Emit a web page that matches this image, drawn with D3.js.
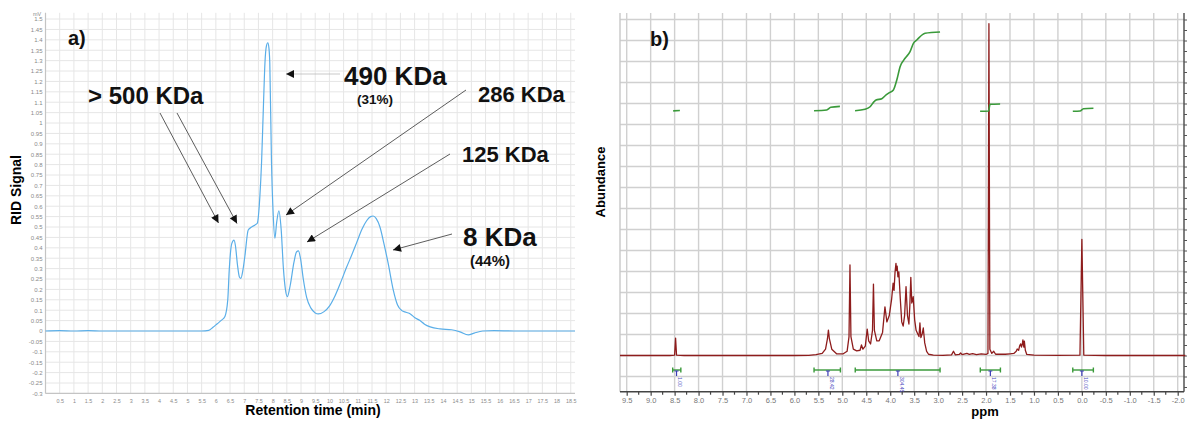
<!DOCTYPE html>
<html><head><meta charset="utf-8">
<script src="https://cdn.jsdelivr.net/npm/d3@7"></script>
<style>body{margin:0;background:#fff}svg{display:block;font-family:Arial,"Liberation Sans",sans-serif}</style>
</head><body><svg id="c" width="1190" height="421"></svg>
<script>
// ---------- Panel a) GPC / RID chromatogram ----------
const gpcTicksY = d3.range(-6, 31).map(i => +(i * 0.05).toFixed(2));
const gpcTicksX = d3.range(1, 38).map(i => i * 0.5);
// [retention time (min), RID signal]
const gpcCurve = [
  [0,0],[0.5,0.002],[1,0],[1.5,0.002],[2,0],[3,0],[4,0],[5,0],[5.5,0],[5.75,0.003],
  [5.9,0.018],[6.05,0.035],[6.2,0.052],[6.32,0.07],[6.42,0.15],[6.47,0.29],[6.56,0.42],
  [6.64,0.437],[6.69,0.41],[6.76,0.32],[6.83,0.26],[6.88,0.253],[6.95,0.29],[7.02,0.357],
  [7.14,0.486],[7.26,0.50],[7.38,0.51],[7.46,0.518],[7.55,0.646],[7.61,0.81],[7.68,1.1],
  [7.73,1.29],[7.78,1.37],[7.83,1.386],[7.87,1.36],[7.9,1.29],[7.96,0.81],[8.02,0.56],
  [8.08,0.446],[8.14,0.52],[8.22,0.578],[8.3,0.49],[8.38,0.3],[8.45,0.2],[8.52,0.165],
  [8.62,0.22],[8.75,0.33],[8.84,0.38],[8.91,0.385],[8.98,0.35],[9.08,0.25],[9.2,0.16],
  [9.35,0.11],[9.5,0.087],[9.61,0.082],[9.8,0.092],[10.0,0.12],[10.2,0.17],[10.4,0.235],
  [10.6,0.305],[10.8,0.37],[10.96,0.425],[11.15,0.49],[11.31,0.53],[11.45,0.55],
  [11.54,0.553],[11.65,0.54],[11.78,0.50],[11.92,0.42],[12.07,0.325],[12.25,0.197],
  [12.4,0.125],[12.55,0.098],[12.7,0.09],[12.85,0.082],[13.0,0.065],[13.19,0.05],
  [13.35,0.033],[13.55,0.02],[13.9,0.01],[14.3,0.006],[14.6,-0.004],[14.89,-0.019],
  [15.1,-0.01],[15.4,0],[15.8,0.002],[16.5,0],[17,0],[18,0],[18.65,0]
];

// ---------- Panel b) 1H NMR spectrum ----------
const nmrTicksX = d3.range(0, 24).map(i => +(9.5 - i * 0.5).toFixed(1));
// [chemical shift (ppm), abundance]
const nmrCurve = [
  [9.64,0],[8.6,0],[8.5,0.02],[8.48,0.83],[8.46,0.02],[8.3,0],[6.0,0],[5.7,0.01],[5.55,0.04],
  [5.42,0.1],[5.35,0.3],[5.31,0.8],[5.29,1.21],[5.27,0.8],[5.22,0.3],[5.12,0.08],[4.98,0.08],
  [4.9,0.2],[4.86,0.9],[4.84,4.31],[4.82,0.9],[4.77,0.3],[4.7,0.22],[4.63,0.25],[4.6,0.5],
  [4.57,0.3],[4.52,0.45],[4.48,1.26],[4.45,0.7],[4.41,0.55],[4.37,1.2],[4.35,3.4],[4.33,1.2],
  [4.28,0.7],[4.23,0.7],[4.16,1.1],[4.11,2.32],[4.07,1.6],[4.02,1.9],[3.97,2.7],[3.94,3.44],
  [3.92,3.1],[3.9,3.95],[3.88,4.39],[3.87,4.05],[3.855,4.26],[3.84,3.75],[3.82,3.98],
  [3.79,2.7],[3.76,1.6],[3.73,1.4],[3.7,1.9],[3.67,3.28],[3.64,1.9],[3.61,1.5],[3.59,2.4],
  [3.57,3.72],[3.55,2.5],[3.52,2.8],[3.49,1.7],[3.46,1.2],[3.43,1.05],[3.4,0.9],[3.38,1.55],
  [3.36,0.85],[3.33,1.05],[3.31,1.31],[3.28,0.6],[3.24,0.2],[3.2,0.06],[3.1,0.02],[2.9,0.01],
  [2.72,0.03],[2.68,0.2],[2.64,0.03],[2.56,0.05],[2.53,0.12],[2.5,0.04],[2.4,0.1],[2.35,0.05],
  [2.28,0.09],[2.2,0.04],[2.1,0.08],[2.0,0.05],[1.96,0.1],[1.94,15.8],[1.92,0.3],[1.88,0.1],
  [1.84,0.2],[1.8,0.06],[1.6,0.06],[1.5,0.08],[1.42,0.1],[1.37,0.2],[1.35,0.31],[1.32,0.25],
  [1.3,0.45],[1.28,0.55],[1.26,0.4],[1.24,0.6],[1.23,0.74],[1.22,0.5],[1.21,0.4],[1.2,0.68],
  [1.18,0.25],[1.15,0.05],[1.0,0.02],[0.5,0.01],[0.04,0.02],[0.0,5.53],[-0.04,0.02],
  [-0.5,0],[-2.16,0]
];
// integration regions [start ppm, end ppm], marker position, value text
const intRegions = [[8.54,8.37],[5.59,5.04],[4.73,2.96],[2.12,1.70],[0.19,-0.24]];
const intMarks = [8.46, 5.30, 3.84, 1.91, 0.0];
const intLabels = ["1.00", "28.42", "304.45", "17.38", "10.00"];
// integral traces [ppm, integral %]
const integrals = [
  [[8.53,0.2],[8.39,0.6]],
  [[5.59,0.4],[5.325,1.3],[5.24,4.7],[5.05,5.9]],
  [[4.734,0.4],[4.525,2.2],[4.42,5.4],[4.337,11.8],[4.295,13.9],[4.176,15.6],[4.086,20.3],
   [4.018,23.2],[3.934,26.6],[3.863,39.2],[3.794,56.1],[3.69,66.7],[3.586,75.1],[3.516,85.7],
   [3.446,89.9],[3.273,98.4],[2.96,100]],
  [[2.124,-0.4],[1.95,0],[1.915,8.5],[1.706,8.9]],
  [[0.189,-0.4],[0.037,0],[-0.032,2.9],[-0.241,3.4]]
];

const svg = d3.select("#c");
const fmt = v => String(+v.toFixed(2));

// ================= Panel a =================
const xA = d3.scaleLinear([0, 18.65], [45.5, 575]);
const yA = d3.scaleLinear([-0.3, 1.53], [393.4, 12.8]);
const gA = svg.append("g");
gA.append("g").selectAll("line").data(gpcTicksX).join("line")
  .attr("x1", d => xA(d)).attr("x2", d => xA(d)).attr("y1", yA.range()[1]).attr("y2", yA.range()[0])
  .attr("stroke", "#e6e6e6").attr("stroke-width", 1);
gA.append("g").selectAll("line").data(gpcTicksY.filter(d => d !== -0.3)).join("line")
  .attr("x1", xA.range()[0]).attr("x2", xA.range()[1]).attr("y1", d => yA(d)).attr("y2", d => yA(d))
  .attr("stroke", "#e6e6e6").attr("stroke-width", 1);
// axes
const axYA = gA.append("g").attr("transform", `translate(${xA(0)},0)`)
  .call(d3.axisLeft(yA).tickValues(gpcTicksY).tickFormat(fmt).tickSize(0).tickPadding(3));
const axXA = gA.append("g").attr("transform", `translate(0,${yA(-0.3)})`)
  .call(d3.axisBottom(xA).tickValues(gpcTicksX).tickFormat(fmt).tickSize(0).tickPadding(6));
[axYA, axXA].forEach(a => {
  a.select(".domain").attr("stroke", "#c4c4c4").attr("stroke-width", 1.2);
  a.selectAll("text").attr("font-size", 6).attr("fill", "#8a8a8a").attr("font-family", "Arial, sans-serif");
});
axXA.selectAll("text").attr("font-size", 5.4);
axYA.select(".domain").attr("d", `M0,${yA.range()[0]}V${yA.range()[1]}`);
axXA.select(".domain").attr("d", `M${xA.range()[0]},0H${xA.range()[1]}`);
gA.append("text").attr("x", 33).attr("y", 16).attr("font-size", 5.5).attr("fill", "#8a8a8a").text("mV");

gA.append("path").datum(gpcCurve)
  .attr("d", d3.line().x(d => xA(d[0])).y(d => yA(d[1])).curve(d3.curveMonotoneX))
  .attr("fill", "none").attr("stroke", "#5aaee8").attr("stroke-width", 1.2);

// titles
gA.append("text").attr("transform", "translate(21,190) rotate(-90)").attr("text-anchor", "middle")
  .attr("font-weight", "bold").attr("font-size", 14).text("RID Signal");
gA.append("text").attr("x", 313).attr("y", 415).attr("text-anchor", "middle")
  .attr("font-weight", "bold").attr("font-size", 14).text("Retention time (min)");

// annotations
const defs = svg.append("defs");
defs.append("marker").attr("id", "arr").attr("viewBox", "0 0 10 10").attr("refX", 10).attr("refY", 5)
  .attr("markerWidth", 9).attr("markerHeight", 8).attr("markerUnits", "userSpaceOnUse").attr("orient", "auto")
  .append("path").attr("d", "M0,0L10,5L0,10z").attr("fill", "#111");
const arrows = [
  [160,113,218.5,223,"#333"],[177,113,237,223.5,"#333"],[340,74,286,74,"#bbb"],
  [466,90,286,215,"#333"],[450,154,307,242,"#333"],[452,234,393,250,"#333"]
];
gA.append("g").selectAll("line").data(arrows).join("line")
  .attr("x1", d => d[0]).attr("y1", d => d[1]).attr("x2", d => d[2]).attr("y2", d => d[3])
  .attr("stroke", d => d[4]).attr("stroke-width", 0.8).attr("marker-end", "url(#arr)");
const labels = [
  ["a)", 68, 45, 20], ["> 500 KDa", 88, 104, 24], ["490 KDa", 344, 85, 26], ["(31%)", 357, 104, 13.5],
  ["286 KDa", 478, 102, 22], ["125 KDa", 462, 162, 22], ["8 KDa", 463, 246, 26], ["(44%)", 470, 266, 15]
];
gA.append("g").selectAll("text").data(labels).join("text")
  .attr("x", d => d[1]).attr("y", d => d[2]).attr("font-size", d => d[3]).attr("font-weight", "bold")
  .attr("fill", "#111").text(d => d[0]);

// ================= Panel b =================
const xB = d3.scaleLinear([9.5, -2.0], [626.7, 1177.7]);
const yB = d3.scaleLinear([0, 16], [355.5, 19.5]);
const yI = d3.scaleLinear([0, 100], [111, 32]);
const pL = 620, pR = 1184, pT = 13, pB = 391.7;
const gB = svg.append("g");
gB.append("g").selectAll("line").data(nmrTicksX).join("line")
  .attr("x1", d => xB(d)).attr("x2", d => xB(d)).attr("y1", pT).attr("y2", pB)
  .attr("stroke", "#d0d0d0").attr("stroke-width", 1.4);
gB.append("g").selectAll("line").data(d3.range(-1, 17)).join("line")
  .attr("x1", pL).attr("x2", pR).attr("y1", d => yB(d)).attr("y2", d => yB(d))
  .attr("stroke", "#d0d0d0").attr("stroke-width", 1.4);
gB.append("line").attr("x1", pL).attr("x2", pL).attr("y1", pT).attr("y2", pB)
  .attr("stroke", "#c8c8c8").attr("stroke-width", 1.4);
// right tick axis
const rAx = gB.append("g").attr("transform", `translate(${pR},0)`)
  .call(d3.axisRight(yB).tickValues(d3.range(-3, 33).map(i => i * 0.5)).tickFormat("").tickSize(3));
rAx.select(".domain").attr("d", `M0,${pT}V${pB}`).attr("stroke", "#555").attr("stroke-width", 1.5);
rAx.selectAll("line").attr("stroke", "#555");
// bottom axis
const bAx = gB.append("g").attr("transform", `translate(0,${pB})`)
  .call(d3.axisBottom(xB).tickValues(nmrTicksX).tickFormat(d => d.toFixed(1)).tickSize(4).tickPadding(2));
bAx.select(".domain").attr("d", `M${pL},0H${pR}`).attr("stroke", "#444").attr("stroke-width", 1.6);
bAx.selectAll("line").attr("stroke", "#444").attr("stroke-width", 1.2);
bAx.selectAll("text").attr("font-size", 7.5).attr("fill", "#777").attr("font-family", "Arial, sans-serif");
gB.append("g").attr("transform", `translate(0,${pB})`)
  .selectAll("line").data(nmrTicksX.slice(0, -1).map(d => d - 0.25)).join("line")
  .attr("x1", d => xB(d)).attr("x2", d => xB(d)).attr("y1", 0).attr("y2", 3)
  .attr("stroke", "#444").attr("stroke-width", 1.2);

// spectrum
gB.append("path").datum(nmrCurve)
  .attr("d", d3.line().x(d => xB(d[0])).y(d => yB(d[1])))
  .attr("fill", "none").attr("stroke", "#8e1c1c").attr("stroke-width", 1.3).attr("stroke-linejoin", "round");

// integrals
gB.append("g").selectAll("path").data(integrals).join("path")
  .attr("d", d3.line().x(d => xB(d[0])).y(d => yI(d[1])).curve(d3.curveMonotoneX))
  .attr("fill", "none").attr("stroke", "#3a9a3a").attr("stroke-width", 1.6);
// integration region bars
const gR = gB.append("g");
gR.selectAll("line.bar").data(intRegions).join("line").attr("class", "bar")
  .attr("x1", d => xB(d[0])).attr("x2", d => xB(d[1])).attr("y1", 370).attr("y2", 370)
  .attr("stroke", "#3a9a3a").attr("stroke-width", 1.4);
gR.selectAll("path.cap").data(intRegions).join("path").attr("class", "cap")
  .attr("d", d => `M${xB(d[0])},367.5V372.5M${xB(d[1])},367.5V372.5`)
  .attr("stroke", "#3a9a3a").attr("stroke-width", 1.4);
gR.selectAll("path.mk").data(intMarks).join("path").attr("class", "mk")
  .attr("d", d => `M${xB(d) - 2},371H${xB(d) + 2}M${xB(d)},371V376`)
  .attr("stroke", "#3b3bb5").attr("stroke-width", 1.2);
gR.selectAll("text").data(intMarks).join("text")
  .attr("transform", (d, i) => `translate(${xB(d) + 1.8},377) rotate(90)`)
  .attr("font-size", 5).attr("fill", "#4a4ac0").text((d, i) => intLabels[i]);

gB.append("text").attr("transform", "translate(605,182) rotate(-90)").attr("text-anchor", "middle")
  .attr("font-weight", "bold").attr("font-size", 13).text("Abundance");
gB.append("text").attr("x", 985).attr("y", 416).attr("text-anchor", "middle")
  .attr("font-weight", "bold").attr("font-size", 13).text("ppm");
gB.append("text").attr("x", 650).attr("y", 46).attr("font-weight", "bold").attr("font-size", 20)
  .attr("fill", "#111").text("b)");
</script></body></html>
